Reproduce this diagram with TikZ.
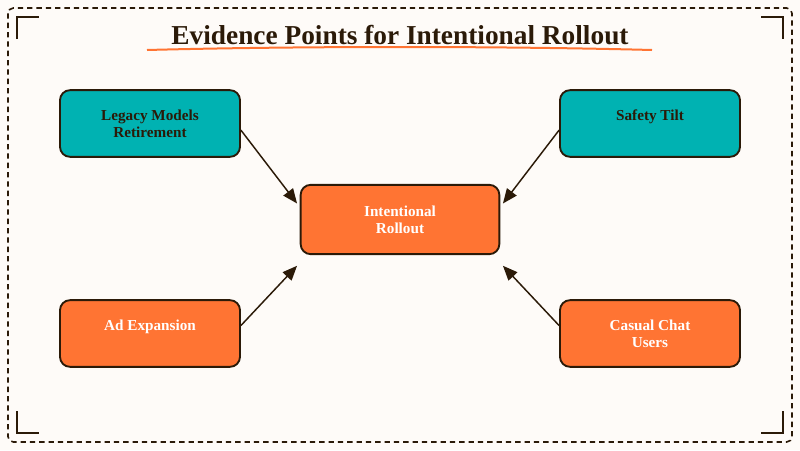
\documentclass[tikz,border=0pt]{standalone}
\usepackage{fontspec}
\setmainfont{Liberation Serif}
\usetikzlibrary{arrows.meta}
\definecolor{bg}{HTML}{FEFBF8}
\definecolor{ink}{HTML}{2B1A08}
\definecolor{teal}{HTML}{00B2B2}
\definecolor{org}{HTML}{FF7433}
\begin{document}
\begin{tikzpicture}[x=0.75pt,y=-0.75pt,
 box/.style={draw=ink,line width=1.4pt,rounded corners=7.5pt,minimum width=135pt,minimum height=50pt,align=center,font=\bfseries\fontsize{11.4}{13}\selectfont,inner sep=0pt},
 tb/.style={box,fill=teal,text=ink},
 ob/.style={box,fill=org,text=white},
 arr/.style={draw=ink,line width=1.1pt,-{Triangle[length=11pt,width=9pt]}},
 cmark/.style={draw=ink,line width=1.6pt}]
\fill[bg] (0,0) rectangle (800,450);
\useasboundingbox (0,0) rectangle (800,450);
\draw[ink,line width=1.2pt,dash pattern=on 4pt off 3pt,rounded corners=4pt] (8,8) rectangle (792,442);
\draw[cmark] (17,39)--(17,17)--(39,17);
\draw[cmark] (761,17)--(783,17)--(783,39);
\draw[cmark] (17,411)--(17,433)--(39,433);
\draw[cmark] (761,433)--(783,433)--(783,411);
\node[font=\bfseries\fontsize{20.5}{23}\selectfont,text=ink] (title) at (400,35) {Evidence Points for Intentional Rollout};
\draw[org,line width=1.5pt] (147,50) .. controls (300,46) and (500,46) .. (652,50);
\node[tb] (leg) at (150,123.5) {Legacy Models\\Retirement};
\node[tb] (saf) at (650,123.5) {Safety Tilt\\\phantom{X}};
\node[ob,minimum width=149pt,minimum height=52pt] (cen) at (400,219.5) {Intentional\\Rollout};
\node[ob] (ad) at (150,333.5) {Ad Expansion\\\phantom{X}};
\node[ob] (cas) at (650,333.5) {Casual Chat\\Users};
\draw[arr] ([yshift=-5pt]leg.east) -- ([shift={(-2pt,12pt)}]cen.west);
\draw[arr] ([yshift=-5pt]saf.west) -- ([shift={(2pt,12pt)}]cen.east);
\draw[arr] ([yshift=6pt]ad.east) -- ([shift={(-2pt,-8pt)}]cen.south west);
\draw[arr] ([yshift=6pt]cas.west) -- ([shift={(2pt,-8pt)}]cen.south east);
\end{tikzpicture}
\end{document}
